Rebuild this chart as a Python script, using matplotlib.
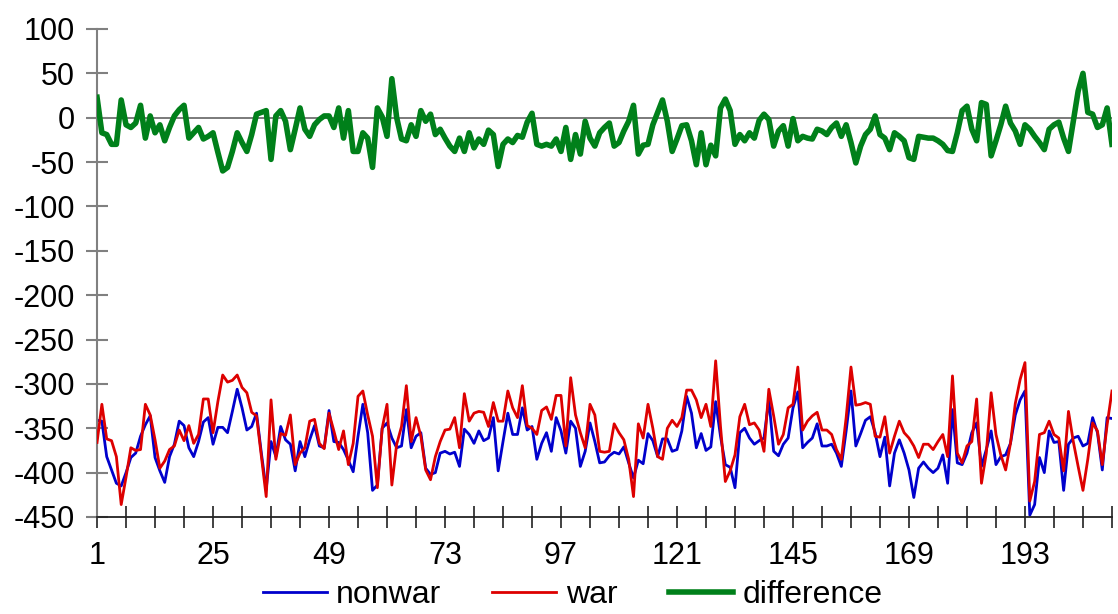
import numpy as np
import matplotlib
matplotlib.use('Agg')
from matplotlib import pyplot as plt

plt.rcParams['font.family'] = ['Liberation Sans', 'DejaVu Sans']
plt.rcParams['axes.unicode_minus'] = False

# values, one per category 1..211
nonwar = [-341, -342, -382, -397, -412, -415, -400, -383, -378, -359,
          -346, -336, -383, -398, -411, -382, -368, -342, -347, -372,
          -382, -365, -343, -338, -368, -349, -349, -355, -331, -306,
          -327, -352, -348, -333, -378, -419, -365, -382, -348, -363,
          -368, -398, -365, -382, -363, -347, -370, -372, -330, -365,
          -366, -374, -386, -399, -359, -323, -355, -420, -414, -350,
          -344, -361, -372, -370, -329, -372, -359, -355, -395, -402,
          -400, -378, -376, -379, -377, -393, -351, -357, -367, -353,
          -364, -361, -338, -398, -365, -333, -357, -357, -327, -352,
          -348, -385, -367, -355, -376, -338, -353, -378, -342, -350,
          -393, -376, -344, -365, -389, -388, -381, -377, -379, -371,
          -389, -406, -386, -390, -356, -364, -382, -362, -362, -376,
          -374, -353, -314, -333, -372, -356, -375, -371, -320, -359,
          -391, -394, -417, -355, -350, -361, -368, -364, -361, -317,
          -376, -381, -368, -361, -327, -309, -372, -366, -361, -345,
          -370, -370, -368, -378, -393, -353, -308, -370, -356, -341,
          -337, -355, -382, -360, -415, -378, -363, -378, -397, -428,
          -395, -388, -395, -400, -395, -380, -412, -329, -389, -391,
          -378, -355, -344, -393, -374, -353, -391, -382, -380, -367,
          -335, -318, -308, -448, -436, -383, -400, -353, -366, -365,
          -420, -368, -361, -359, -370, -367, -338, -355, -397, -338,
          -339]

war = [-366, -323, -362, -364, -382, -436, -405, -372, -375, -374,
       -323, -335, -363, -395, -387, -374, -370, -352, -364, -347,
       -367, -357, -317, -317, -355, -320, -290, -298, -296, -290,
       -304, -310, -332, -336, -382, -427, -318, -385, -356, -358,
       -335, -391, -378, -372, -342, -340, -367, -373, -333, -353,
       -374, -353, -391, -367, -314, -308, -335, -359, -417, -350,
       -323, -414, -368, -348, -302, -365, -338, -359, -397, -408,
       -382, -365, -352, -351, -338, -372, -311, -342, -333, -331,
       -332, -348, -321, -342, -342, -308, -327, -338, -302, -347,
       -350, -357, -330, -326, -340, -313, -313, -370, -293, -335,
       -355, -372, -323, -335, -376, -377, -376, -345, -355, -363,
       -385, -427, -345, -361, -323, -350, -382, -385, -350, -341,
       -348, -338, -307, -307, -318, -338, -323, -348, -274, -348,
       -410, -398, -380, -337, -323, -346, -344, -352, -376, -306,
       -336, -368, -357, -327, -323, -281, -352, -342, -336, -332,
       -352, -352, -357, -374, -385, -338, -281, -324, -323, -321,
       -323, -359, -360, -337, -378, -359, -342, -355, -361, -370,
       -383, -368, -368, -374, -365, -357, -382, -291, -378, -389,
       -370, -365, -317, -412, -378, -310, -357, -380, -397, -367,
       -322, -295, -276, -432, -410, -357, -355, -342, -357, -361,
       -398, -331, -365, -393, -420, -385, -344, -353, -391, -346,
       -308]

difference = [23, -17, -19, -30, -30, 20, -8, -11, -6, 14,
              -23, 2, -17, -8, -26, -11, 2, 9, 14, -23,
              -17, -11, -24, -21, -17, -39, -60, -56, -38, -17,
              -28, -38, -19, 4, 6, 8, -47, 2, 8, -4,
              -36, -13, 11, -13, -21, -8, -2, 2, 2, -11,
              11, -23, 8, -38, -38, -17, -23, -56, 11, 1,
              -21, 44, 0, -24, -26, -8, -21, 8, -4, 4,
              -19, -13, -23, -32, -38, -23, -38, -17, -34, -24,
              -30, -14, -19, -55, -30, -24, -28, -20, -22, -5,
              5, -30, -32, -30, -32, -24, -38, -11, -47, -19,
              -41, -4, -23, -32, -17, -11, -6, -32, -28, -15,
              -4, 14, -41, -31, -30, -8, 6, 20, -4, -38,
              -24, -9, -8, -26, -53, -17, -53, -31, -43, 11,
              21, 8, -30, -19, -26, -17, -23, -3, 4, -2,
              -32, -15, -9, -32, -1, -26, -21, -23, -24, -13,
              -15, -19, -11, -6, -21, -8, -28, -51, -32, -19,
              -13, 2, -19, -23, -36, -17, -21, -26, -45, -47,
              -21, -22, -23, -23, -26, -30, -37, -38, -17, 8,
              13, -13, -26, 17, 15, -43, -26, -8, 13, -6,
              -15, -30, -8, -13, -21, -28, -36, -13, -8, -5,
              -23, -38, -4, 30, 50, 6, 4, -11, -8, 11,
              -30]

categories = np.arange(1, len(nonwar) + 1)
tick_pos = categories[::6]
tick_labels = [str(c) if (c - 1) % 24 == 0 else '' for c in tick_pos]
y_ticks = list(range(-450, 101, 50))

fig = plt.figure(figsize=(11.18, 6.14), dpi=100)
ax = fig.add_axes([0.0868, 0.158, 0.9078, 0.7948])

ax.axhline(0, color='#707070', lw=1.3, zorder=1)
ax.plot(categories, nonwar, color='#0000CC', lw=2.0, label='nonwar', zorder=2)
ax.plot(categories, war, color='#DD0000', lw=2.0, label='war', zorder=3)
ax.plot(categories, difference, color='#00801A', lw=4.0, label='difference', zorder=4)

ax.set_xlim(1, categories[-1])
ax.set_ylim(-450, 100)
ax.set_xticks(tick_pos)
ax.set_xticklabels(tick_labels)
ax.set_yticks(y_ticks)

for s in ['top', 'right']:
    ax.spines[s].set_visible(False)
ax.spines['left'].set_color('#808080')
ax.spines['left'].set_linewidth(1.5)
ax.spines['bottom'].set_color('#222222')
ax.spines['bottom'].set_linewidth(1.3)

ax.tick_params(axis='y', direction='inout', length=16, width=1.5, color='#808080',
               labelsize=22, pad=8)
ax.tick_params(axis='x', direction='inout', length=16, width=1.3, color='#333333',
               labelsize=22, pad=9)

fig.legend(loc='lower center', bbox_to_anchor=(0.512, -0.014), ncol=3, frameon=False,
           fontsize=23, handlelength=2.0, handletextpad=0.3, columnspacing=1.6,
           borderaxespad=0)

fig.savefig('out.png', dpi=100)
